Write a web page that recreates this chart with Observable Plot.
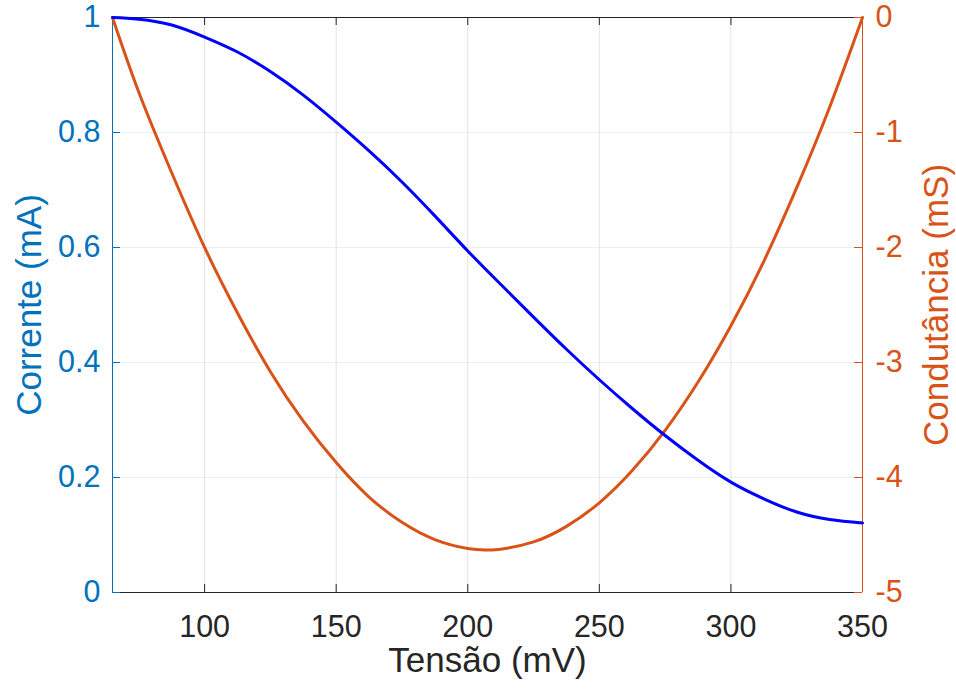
<!DOCTYPE html>
<html>
<head>
<meta charset="utf-8">
<script src="https://cdn.jsdelivr.net/npm/d3@7"></script>
<script src="https://cdn.jsdelivr.net/npm/@observablehq/plot@0.6"></script>
<style>
  html, body { margin: 0; padding: 0; background: #ffffff; }
</style>
</head>
<body>
<div id="chart"></div>
<script>
// ---- data ----
const tensao = [65, 75, 87.5, 100, 112.5, 125, 137.5, 150, 162.5, 175, 187.5, 200, 212.5, 225, 237.5, 250, 262.5, 275, 287.5, 300, 312.5, 325, 337.5, 350];
const corrente = [1.000, 0.997, 0.987, 0.966, 0.940, 0.906, 0.865, 0.818, 0.768, 0.714, 0.655, 0.594, 0.536, 0.479, 0.423, 0.370, 0.320, 0.273, 0.230, 0.192, 0.163, 0.140, 0.127, 0.121];

const tensaoG = [65, 75, 87.5, 100, 112.5, 125, 137.5, 150, 162.5, 175, 187.5, 200, 207.5, 212.5, 225, 237.5, 250, 262.5, 275, 287.5, 300, 312.5, 325, 337.5, 350];
const condutancia = [0, -0.65, -1.35, -2.00, -2.57, -3.08, -3.51, -3.87, -4.17, -4.39, -4.54, -4.617, -4.63, -4.624, -4.56, -4.425, -4.22, -3.94, -3.59, -3.17, -2.68, -2.12, -1.48, -0.78, 0];

const xDomain = [65, 350];
const xTicks = [100, 150, 200, 250, 300, 350];
const xTickLabels = ["100", "150", "200", "250", "300", "350"];

const yDomain = [0, 1];
const yTicks = [0, 0.2, 0.4, 0.6, 0.8, 1];
const yTickLabels = ["0", "0.2", "0.4", "0.6", "0.8", "1"];

const gDomain = [-5, 0];
const gTicks = [-5, -4, -3, -2, -1, 0];
const gTickLabels = ["-5", "-4", "-3", "-2", "-1", "0"];

const xLabel = "Tensão (mV)";
const yLabel = "Corrente (mA)";
const gLabel = "Condutância (mS)";

// ---- layout ----
const W = 956, H = 690;
const mL = 112, mR = 94, mT = 17, mB = 98;
const plotW = W - mL - mR, plotH = H - mT - mB;

const blue = "#0000FF";
const leftColor = "#0072BD";
const orange = "#D95319";
const dark = "#262626";
const font = "'Liberation Sans', Arial, Helvetica, sans-serif";

// map conductance onto the left (current) scale for the secondary axis
const g2y = d3.scaleLinear().domain(gDomain).range(yDomain);

const currentData = tensao.map((v, i) => ({v, i: corrente[i]}));
const condData = tensaoG.map((v, i) => ({v, g: condutancia[i]}));

const chart = Plot.plot({
  width: W,
  height: H,
  marginLeft: mL,
  marginRight: mR,
  marginTop: mT,
  marginBottom: mB,
  style: {fontFamily: font, fontSize: "30px", background: "#ffffff"},
  x: {domain: xDomain},
  y: {domain: yDomain},
  marks: [
    // grids
    Plot.gridX(xTicks, {stroke: dark, strokeOpacity: 0.13, strokeWidth: 1}),
    Plot.gridY(yTicks, {stroke: leftColor, strokeOpacity: 0.09, strokeWidth: 1}),
    // box lines
    Plot.ruleY([yDomain[1]], {stroke: dark, strokeWidth: 1}),
    Plot.ruleY([yDomain[0]], {stroke: dark, strokeWidth: 1}),
    // inward tick marks
    Plot.tickX(xTicks, {x: d => d, insetTop: plotH - 8, stroke: dark, strokeWidth: 1}),
    Plot.tickX(xTicks, {x: d => d, insetBottom: plotH - 8, stroke: dark, strokeWidth: 1}),
    Plot.tickY(yTicks, {y: d => d, insetRight: plotW - 8, stroke: leftColor, strokeWidth: 1}),
    Plot.tickY(gTicks.map(g2y), {y: d => d, insetLeft: plotW - 8, stroke: orange, strokeWidth: 1}),
    Plot.ruleX([xDomain[0]], {stroke: leftColor, strokeWidth: 1}),
    Plot.ruleX([xDomain[1]], {stroke: orange, strokeWidth: 1}),
    // tick labels
    Plot.axisX(xTicks, {
      anchor: "bottom", tickSize: 0, tickPadding: 23, fontSize: 30.5, color: dark,
      tickFormat: d => xTickLabels[xTicks.indexOf(d)], label: null
    }),
    Plot.axisY(yTicks, {
      anchor: "left", tickSize: 0, tickPadding: 12, fontSize: 30.5, color: leftColor,
      tickFormat: d => yTickLabels[yTicks.indexOf(d)], label: null
    }),
    Plot.axisY(gTicks.map(g2y), {
      anchor: "right", tickSize: 0, tickPadding: 13, fontSize: 30.5, color: orange,
      tickFormat: d => gTickLabels[gTicks.indexOf(Math.round(g2y.invert(d)))], label: null
    }),
    // axis titles
    Plot.text([xLabel], {text: d => d, frameAnchor: "bottom", lineAnchor: "top", textAnchor: "middle", dy: 55, fontSize: 35, fill: dark}),
    Plot.text([yLabel], {text: d => d, frameAnchor: "left", rotate: -90, textAnchor: "middle", lineAnchor: "middle", dx: -83, fontSize: 35, fill: leftColor}),
    Plot.text([gLabel], {text: d => d, frameAnchor: "right", rotate: -90, textAnchor: "middle", lineAnchor: "middle", dx: 74, fontSize: 35, fill: orange}),
    // curves
    Plot.line(condData, {x: "v", y: d => g2y(d.g), stroke: orange, strokeWidth: 3, curve: "natural"}),
    Plot.line(currentData, {x: "v", y: "i", stroke: blue, strokeWidth: 3, curve: "natural"})
  ]
});

document.getElementById("chart").appendChild(chart);
</script>
</body>
</html>
